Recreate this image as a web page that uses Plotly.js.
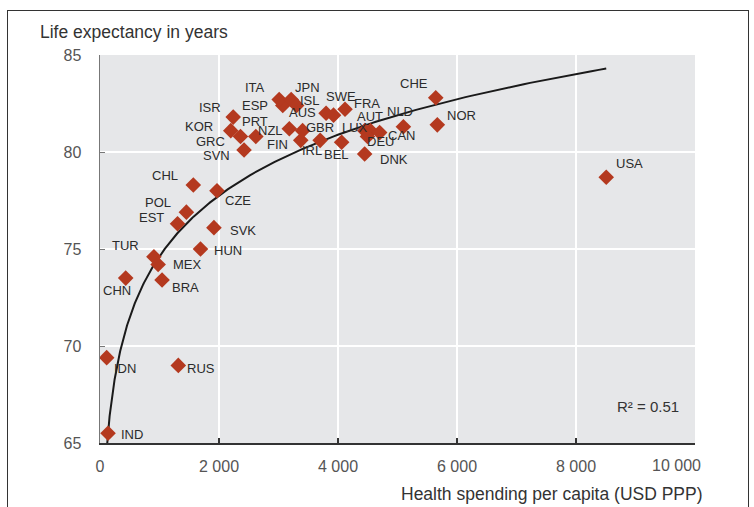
<!DOCTYPE html>
<html>
<head>
<meta charset="utf-8">
<script src="https://cdn.plot.ly/plotly-3.0.1.min.js"></script>
<style>
  html, body { margin: 0; padding: 0; background: #fff; }
  #chart { width: 754px; height: 507px; }
  #frame { position: absolute; left: 7px; top: 10px; width: 740px; height: 520px;
           border: 1.5px solid #333; pointer-events: none; }
</style>
</head>
<body>
<div id="chart"></div>
<div id="frame"></div>
<script>
// ---- data ----
const countries = ["IND","IDN","RUS","CHN","TUR","MEX","BRA","HUN","SVK","CZE","CHL","POL","EST",
  "SVN","GRC","KOR","ISR","PRT","ESP","ITA","NZL","FIN","JPN","ISL","AUS","GBR","IRL","BEL",
  "SWE","FRA","AUT","LUX","DEU","CAN","NLD","DNK","CHE","NOR","USA"];
const spending = [135, 112, 1316, 432, 906, 977, 1043, 1689, 1915, 1966, 1568, 1452, 1303,
  2421, 2361, 2198, 2239, 2619, 3072, 3012, 3182, 3374, 3213, 3305, 3800, 3405, 3700, 4061,
  3925, 4118, 4546, 4450, 4495, 4700, 5099, 4448, 5643, 5669, 8508];
const lifeExp = [65.5, 69.4, 69.0, 73.5, 74.6, 74.2, 73.4, 75.0, 76.1, 78.0, 78.3, 76.9, 76.3,
  80.1, 80.8, 81.1, 81.8, 80.8, 82.4, 82.7, 81.2, 80.6, 82.7, 82.4, 82.0, 81.1, 80.6, 80.5,
  81.9, 82.2, 81.1, 81.1, 80.8, 81.0, 81.3, 79.9, 82.8, 81.4, 78.7];
const xTickVals = [0, 2000, 4000, 6000, 8000, 10000];
const xTickText = ["0", "2 000", "4 000", "6 000", "8 000", "10 000"];
const yTickVals = [65, 70, 75, 80, 85];

// logarithmic trend line (y = a + b ln x), coefficients
const trendA = 43.4;
const trendB = 4.52;
const trendXStart = 100;

// label offsets (pixels, screen: +dx right, +dy down)
const labelDx = [24, 18, 23, -9, -28, 29, 23, 27, 29, 21, -28, -28, -26,
  -28, -30, -32, -23, -1, -28, -24, -19, -23, 16, 13, -24, 17, -8, -5,
  7, 22, 0, -10, 13, 22, -3, 29, -22, 24, 23];
const labelDy = [1, 11, 3, 12, -11, 0, 7, 1, 3, 10, -9, -10, -6,
  5, 5, -4, -10, -15, 0, -12, 2, 4, -12, -5, -1, -3, 10, 12,
  -19, -6, -14, -3, 5, 3, -15, 6, -14, -9, -14];

const xmax = Math.max(...spending);
const fitX = [], fitY = [];
for (let k = 0; k <= 300; k++) {
  const xv = Math.exp(Math.log(trendXStart) + (Math.log(xmax) - Math.log(trendXStart)) * k / 300);
  fitX.push(xv); fitY.push(trendA + trendB * Math.log(xv));
}

const FF = "Liberation Sans, Arial, sans-serif";
const labelFont = { family: FF, size: 13, color: "#2b2b2b" };
const annotations = countries.map((c, i) => ({
  x: spending[i], y: lifeExp[i], xref: "x", yref: "y", text: c, showarrow: false,
  xanchor: "center", yanchor: "middle", xshift: labelDx[i], yshift: -labelDy[i], font: labelFont
}));
annotations.push({
  xref: "paper", yref: "paper", x: -0.104, y: 1.06, xanchor: "left", yanchor: "middle",
  text: "Life expectancy in years", showarrow: false,
  font: { family: FF, size: 17.5, color: "#333" }
});
annotations.push({
  xref: "paper", yref: "paper", x: 1.017, y: -0.132, xanchor: "right", yanchor: "middle",
  text: "Health spending per capita (USD PPP)", showarrow: false,
  font: { family: FF, size: 17.5, color: "#333" }
});
annotations.push({
  xref: "paper", yref: "paper", x: 0.977, y: 0.093, xanchor: "right", yanchor: "middle",
  text: "R² = 0.51", showarrow: false,
  font: { family: FF, size: 15, color: "#333" }
});
// last x tick label is right-aligned to the axis end in the reference
annotations.push({
  xref: "paper", yref: "paper", x: 1.0, xshift: 8, y: -0.058, xanchor: "right", yanchor: "middle",
  text: xTickText[xTickText.length - 1], showarrow: false,
  font: { family: FF, size: 16, color: "#555" }
});
const shownTickText = xTickText.map((t, i) => i === xTickText.length - 1 ? "" : t);

const traces = [
  { x: fitX, y: fitY, mode: "lines", line: { color: "#1a1a1a", width: 2 }, hoverinfo: "skip" },
  { x: spending, y: lifeExp, text: countries, mode: "markers",
    marker: { symbol: "diamond", size: 12, color: "#b4391f" } }
];

const layout = {
  width: 754, height: 507,
  margin: { l: 100, r: 59, t: 55, b: 64 },
  paper_bgcolor: "#ffffff", plot_bgcolor: "#e6e7e9",
  showlegend: false,
  xaxis: {
    range: [0, 10000], tickvals: xTickVals, ticktext: shownTickText,
    showgrid: true, gridcolor: "#ffffff", gridwidth: 2, zeroline: false,
    showline: true, linecolor: "#333", linewidth: 1.5,
    ticks: "inside", ticklen: 5, tickcolor: "#333", tickwidth: 1.5,
    tickfont: { family: FF, size: 16, color: "#555" },
    ticklabelstandoff: 8
  },
  yaxis: {
    range: [65, 85], tickvals: yTickVals,
    showgrid: true, gridcolor: "#ffffff", gridwidth: 2, zeroline: false,
    showline: true, linecolor: "#777", linewidth: 1.5,
    ticks: "inside", ticklen: 5, tickcolor: "#777", tickwidth: 1,
    tickfont: { family: FF, size: 16, color: "#555" },
    ticklabelstandoff: 14
  },
  annotations: annotations
};

Plotly.newPlot("chart", traces, layout, { displayModeBar: false, staticPlot: true });
</script>
</body>
</html>
